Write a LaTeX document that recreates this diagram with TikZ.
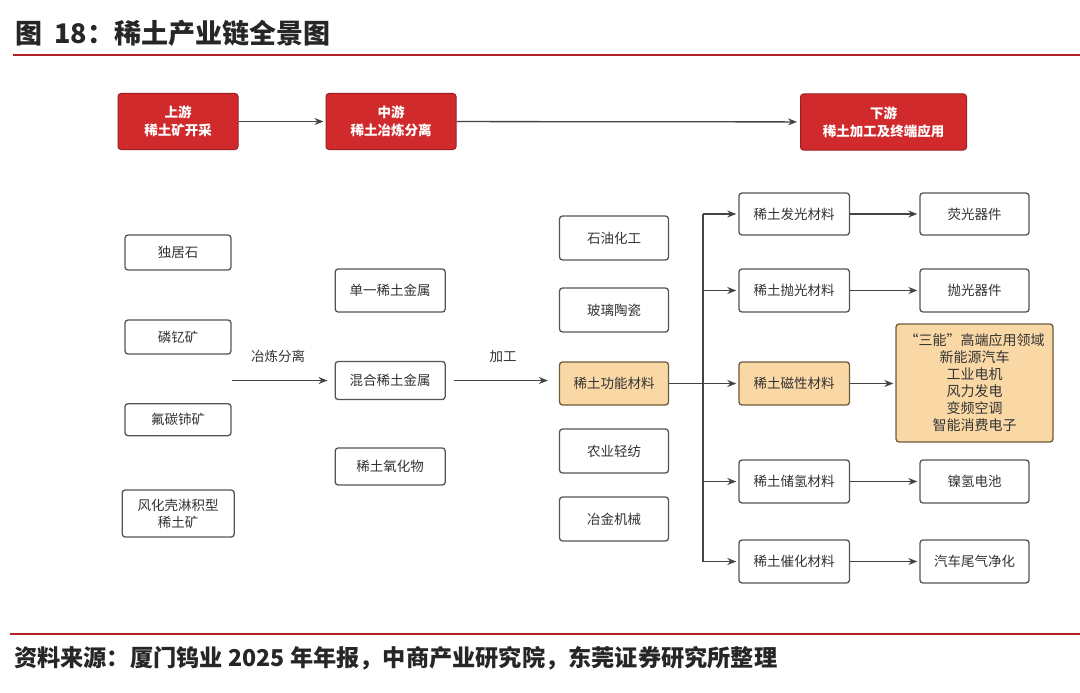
\documentclass[tikz,border=0pt]{standalone}
\usepackage{fontspec}
\setmainfont{Noto Sans CJK SC}
\usetikzlibrary{arrows.meta}
\definecolor{boxred}{HTML}{D02A2C}
\definecolor{boxredline}{HTML}{9E1F22}
\definecolor{titlered}{HTML}{B21F24}
\definecolor{boxline}{HTML}{555555}
\definecolor{arrowgray}{HTML}{444444}
\definecolor{textgray}{HTML}{333333}
\definecolor{orangefill}{HTML}{FAD8A6}
\definecolor{orangeline}{HTML}{6E5A3C}
\begin{document}
\begin{tikzpicture}[x=1pt,y=-1pt,
  box/.style={draw=boxline, line width=1.3pt, rounded corners=3pt, fill=white,
    text=textgray, font=\fontsize{13.5}{17}\selectfont, inner sep=0pt, align=center},
  hibox/.style={box, fill=orangefill, draw=orangeline},
  redbox/.style={draw=boxredline, line width=1pt, rounded corners=3pt, fill=boxred,
    text=white, font=\fontsize{13.5}{18}\selectfont\bfseries, inner sep=0pt, align=center},
  arr/.style={draw=arrowgray, line width=1.3pt, -{Stealth[length=9pt,width=7pt]}},
  ln/.style={draw=arrowgray, line width=1.3pt},
  lbl/.style={text=textgray, font=\fontsize{13.5}{17}\selectfont, inner sep=0pt}]
\useasboundingbox[fill=white] (0,0) rectangle (1080,693);

% title and rules
\node[anchor=base west, inner sep=0pt, text=black!85, font=\fontsize{27}{30}\selectfont\bfseries] (title) at (15,43.5) {图\hspace{12pt}18：稀土产业链全景图};
\draw[titlered, line width=2pt] (13,55) -- (1080,55);
\draw[titlered, line width=2pt] (10,634) -- (1080,634);
\node[anchor=base west, inner sep=0pt, text=black!85, font=\fontsize{23.2}{26}\selectfont\bfseries] (source) at (14,666) {资料来源：厦门钨业 2025 年年报，中商产业研究院，东莞证券研究所整理};

% top chain
\node[redbox, minimum width=120pt, minimum height=56pt] (up) at (178,121.5) {上游\\稀土矿开采};
\node[redbox, minimum width=130pt, minimum height=56pt] (mid) at (391,121.5) {中游\\稀土冶炼分离};
\node[redbox, minimum width=166pt, minimum height=56pt] (down) at (883.5,122) {下游\\稀土加工及终端应用};
\draw[arr, shorten >=2pt] (up) -- (mid);
\draw[arr, shorten >=3pt] (mid) -- (down);

% ores
\node[box, minimum width=106pt, minimum height=35pt] (a1) at (178,252.5) {独居石};
\node[box, minimum width=106pt, minimum height=34pt] (a2) at (178,337) {磷钇矿};
\node[box, minimum width=106pt, minimum height=32pt] (a3) at (178,419.7) {氟碳铈矿};
\node[box, minimum width=112pt, minimum height=47pt] (a4) at (178.2,513.5) {风化壳淋积型\\稀土矿};

% smelting products
\node[box, minimum width=110pt, minimum height=43pt] (b1) at (390.2,290.5) {单一稀土金属};
\node[box, minimum width=110pt, minimum height=38pt] (b2) at (390.2,380.5) {混合稀土金属};
\node[box, minimum width=110pt, minimum height=37pt] (b3) at (390.2,466.5) {稀土氧化物};

\coordinate (orein) at (232,380.5);
\draw[arr, shorten >=7pt] (orein) -- (b2.west);
\node[lbl] (l1) at (278,356.5) {冶炼分离};

% processing
\node[box, minimum width=109pt, minimum height=44pt] (c1) at (614,238) {石油化工};
\node[box, minimum width=109pt, minimum height=44pt] (c2) at (614,310) {玻璃陶瓷};
\node[hibox, minimum width=109pt, minimum height=43pt] (c3) at (614,383.5) {稀土功能材料};
\node[box, minimum width=109pt, minimum height=44pt] (c4) at (614,451) {农业轻纺};
\node[box, minimum width=109pt, minimum height=44pt] (c5) at (614,519) {冶金机械};

\draw[arr, shorten <=8pt, shorten >=11pt] (b2.east) -- (b2.east -| c3.west);
\node[lbl] (l2) at (503,356.5) {加工};

% functional materials
\node[box, minimum width=110.5pt, minimum height=42pt] (d1) at (794.2,214) {稀土发光材料};
\node[box, minimum width=110.5pt, minimum height=43pt] (d2) at (794.2,290.5) {稀土抛光材料};
\node[hibox, minimum width=110.5pt, minimum height=43pt] (d3) at (794.2,383.5) {稀土磁性材料};
\node[box, minimum width=110.5pt, minimum height=43pt] (d4) at (794.2,481.5) {稀土储氢材料};
\node[box, minimum width=110.5pt, minimum height=43pt] (d5) at (794.2,561.5) {稀土催化材料};

% trunk
\coordinate (t1) at (703,214);
\coordinate (t2) at (703,290.5);
\coordinate (t4) at (703,481.5);
\coordinate (t5) at (703,561.5);
\draw[ln] (t1) -- (t5);
\draw[arr, shorten >=2pt] (c3.east) -- (d3.west);
\draw[arr, shorten >=2pt] (t1) -- (d1.west);
\draw[arr, shorten >=2pt] (t2) -- (d2.west);
\draw[arr, shorten >=2pt] (t4) -- (d4.west);
\draw[arr, shorten >=2pt] (t5) -- (d5.west);

% applications
\node[box, minimum width=109pt, minimum height=42pt] (e1) at (974.5,214) {荧光器件};
\node[box, minimum width=109pt, minimum height=43pt] (e2) at (974.5,290.5) {抛光器件};
\node[hibox, minimum width=157pt, minimum height=118pt, font=\fontsize{14}{17}\selectfont] (e3) at (974.5,383) {“三能”高端应用领域\\新能源汽车\\工业电机\\风力发电\\变频空调\\智能消费电子};
\node[box, minimum width=109pt, minimum height=43pt] (e4) at (974.5,481.5) {镍氢电池};
\node[box, minimum width=109pt, minimum height=43pt] (e5) at (974.5,561.5) {汽车尾气净化};

\draw[arr, shorten >=2pt] (d1) -- (e1);
\draw[arr, shorten >=2pt] (d2) -- (e2);
\draw[arr, shorten >=2pt] (d3.east) -- (d3.east -| e3.west);
\draw[arr, shorten >=2pt] (d4) -- (e4);
\draw[arr, shorten >=2pt] (d5) -- (e5);
\end{tikzpicture}
\end{document}
